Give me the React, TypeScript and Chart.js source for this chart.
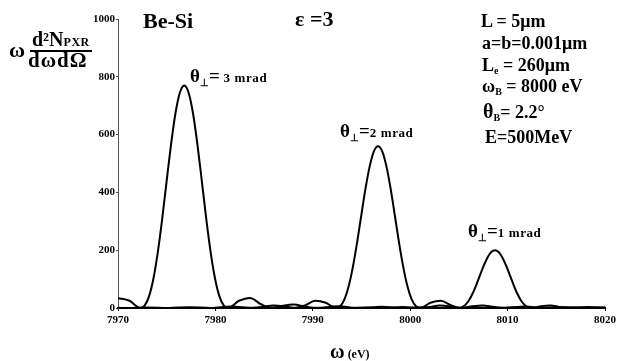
import React, { useEffect, useRef } from "react";
import { Chart, registerables } from "chart.js";

Chart.register(...registerables);

// ---- data ----
const seriesLabels = ["3", "2", "1"]; // θ⊥ in mrad

const omega3 = [7970, 7971.18, 7972.3, 7972.75, 7973.2, 7973.65, 7974.1, 7974.55, 7975.0, 7975.45, 7975.9, 7976.35, 7976.8, 7977.25, 7977.7, 7978.15, 7978.6, 7979.05, 7979.5, 7979.95, 7980.4, 7980.85, 7981.3, 7982.43, 7983.55, 7984.68, 7985.8, 7986.93, 7988.05, 7989.18, 7990.3, 7992.55, 7994.8, 7997.05, 7999.3, 8001.55, 8003.8, 8006.05, 8008.3, 8010.55, 8012.8, 8015.05, 8017.3, 8019.55, 8020];
const yield3 = [34, 25, 0, 9, 42, 104, 196, 312, 441, 567, 674, 745, 770, 745, 674, 567, 441, 312, 196, 104, 42, 9, 0, 25, 35, 13, 0, 8, 12, 5, 0, 6, 0, 4, 0, 2.5, 0, 2, 0, 1.5, 0, 1, 0, 1, 0.8];

const omega2 = [7970, 7970.9, 7973.05, 7975.2, 7977.35, 7979.5, 7981.65, 7983.8, 7984.88, 7985.95, 7987.03, 7988.1, 7989.18, 7990.25, 7991.33, 7992.4, 7992.83, 7993.26, 7993.69, 7994.12, 7994.55, 7994.98, 7995.41, 7995.84, 7996.27, 7996.7, 7997.13, 7997.56, 7997.99, 7998.42, 7998.85, 7999.28, 7999.71, 8000.14, 8000.57, 8001.0, 8002.08, 8003.15, 8004.23, 8005.3, 8006.38, 8007.45, 8008.53, 8009.6, 8011.75, 8013.9, 8016.05, 8018.2, 8020];
const yield2 = [0.5, 0, 2, 0, 3, 0, 5, 0, 4, 9, 6, 0, 9, 25, 18, 0, 7, 31, 76, 143, 227, 321, 413, 490, 542, 560, 542, 490, 413, 321, 227, 143, 76, 31, 7, 0, 18, 25, 9, 0, 6, 9, 4, 0, 5, 0, 3, 0, 2];

const omega1 = [7970, 7980, 7984.0, 7987.8, 7989.7, 7991.6, 7993.5, 7995.4, 7997.3, 7999.2, 8001.1, 8002.05, 8003.0, 8003.95, 8004.9, 8005.28, 8005.66, 8006.04, 8006.42, 8006.8, 8007.18, 8007.56, 8007.94, 8008.32, 8008.7, 8009.08, 8009.46, 8009.84, 8010.22, 8010.6, 8010.98, 8011.36, 8011.74, 8012.12, 8012.5, 8013.45, 8014.4, 8015.35, 8016.3, 8018.2, 8020];
const yield1 = [0.2, 0, 0.5, 0.7, 0, 1, 0, 1.7, 0, 3.2, 0, 3.3, 9, 6.5, 0, 2.4, 10.9, 27.1, 50.9, 81.1, 114.6, 147.4, 175, 193.5, 200, 193.5, 175, 147.4, 114.6, 81.1, 50.9, 27.1, 10.9, 2.4, 0, 6.5, 9, 3.3, 0, 3.2, 0.5];

const xMin = 7970;
const xMax = 8020;
const xStep = 10;
const yMin = 0;
const yMax = 1000;
const yStep = 200;

const params = ["L = 5μm", "a=b=0.001μm", "260μm", "8000 eV", "2.2°", "E=500MeV"];

const SERIF = '"Liberation Serif", "Times New Roman", serif';

function zip(xs: number[], ys: number[]) {
  return xs.map((x, i) => ({ x, y: ys[i] }));
}

const abs = (left: number, top: number, extra: React.CSSProperties = {}): React.CSSProperties => ({
  position: "absolute",
  left,
  top,
  whiteSpace: "nowrap",
  lineHeight: 1,
  fontFamily: SERIF,
  fontWeight: "bold",
  color: "#000",
  ...extra,
});

function ThetaLabel({ left, top, value, spaced }: { left: number; top: number; value: string; spaced?: boolean }) {
  return (
    <div style={abs(left, top, { fontSize: 19 })}>
      <span style={{ fontSize: 19 }}>θ</span>
      <span style={{ fontSize: 10, position: "relative", top: 4 }}>⊥</span>
      <span style={{ fontSize: 19 }}>=</span>
      <span style={{ fontSize: 13, letterSpacing: 0.6 }}>
        {spaced ? " " : ""}
        {value} mrad
      </span>
    </div>
  );
}

export default function App() {
  const ref = useRef<HTMLCanvasElement | null>(null);

  useEffect(() => {
    if (!ref.current) return;
    const tickFont = { family: SERIF, size: 11, weight: "bold" as const };
    const mk = (xs: number[], ys: number[], label: string) => ({
      label,
      data: zip(xs, ys),
      borderColor: "#000",
      borderWidth: 2,
      pointRadius: 0,
      fill: false,
      cubicInterpolationMode: "monotone" as const,
      tension: 0.4,
    });
    const chart = new Chart(ref.current, {
      type: "line",
      data: {
        datasets: [
          mk(omega3, yield3, seriesLabels[0]),
          mk(omega2, yield2, seriesLabels[1]),
          mk(omega1, yield1, seriesLabels[2]),
        ],
      },
      options: {
        animation: false,
        responsive: false,
        maintainAspectRatio: false,
        layout: { padding: { left: 0, top: 19, right: 13, bottom: 0 } },
        plugins: { legend: { display: false }, tooltip: { enabled: false }, title: { display: false } },
        scales: {
          x: {
            type: "linear",
            min: xMin,
            max: xMax,
            ticks: {
              stepSize: xStep,
              font: tickFont,
              color: "#000",
              padding: 3,
              maxRotation: 0,
              callback: (v: any) => String(v),
            },
            grid: { display: true, drawOnChartArea: false, drawTicks: true, tickLength: 3, color: "#000" },
            border: { display: true, color: "#000", width: 2 },
            afterFit: (s: any) => {
              s.height = 53;
            },
          },
          y: {
            type: "linear",
            min: yMin,
            max: yMax,
            ticks: { stepSize: yStep, font: tickFont, color: "#000", padding: 1, callback: (v: any) => String(v) },
            grid: { display: true, drawOnChartArea: false, drawTicks: true, tickLength: 2, color: "#444" },
            border: { display: true, color: "#555", width: 1 },
            afterFit: (s: any) => {
              s.width = 118;
            },
          },
        },
      },
    });
    return () => chart.destroy();
  }, []);

  return (
    <div style={{ position: "fixed", left: 0, top: 0, width: 619, height: 361, background: "#fff" }}>
      <canvas ref={ref} width={619} height={361} style={{ position: "absolute", left: 0, top: 0, width: 619, height: 361 }} />

      {/* y axis label */}
      <div style={abs(9, 39, { fontSize: 22 })}>ω</div>
      <div style={abs(32, 29, { fontSize: 20 })}>
        d²N<span style={{ fontSize: 12, letterSpacing: 0.5 }}>PXR</span>
      </div>
      <div style={{ position: "absolute", left: 30, top: 50, width: 62, height: 1.5, background: "#000" }} />
      <div style={abs(28, 49.5, { fontSize: 21, letterSpacing: 1 })}>dωdΩ</div>

      {/* titles */}
      <div style={abs(143, 9.5, { fontSize: 22 })}>Be-Si</div>
      <div style={abs(295, 7.5, { fontSize: 22 })}>ε =3</div>

      {/* peak labels */}
      <ThetaLabel left={190} top={66} value={seriesLabels[0]} spaced />
      <ThetaLabel left={340} top={121} value={seriesLabels[1]} />
      <ThetaLabel left={468} top={221} value={seriesLabels[2]} />

      {/* parameter block */}
      <div style={abs(481, 12, { fontSize: 18 })}>{params[0]}</div>
      <div style={abs(482, 34, { fontSize: 18 })}>{params[1]}</div>
      <div style={abs(482, 56, { fontSize: 18 })}>
        L<span style={{ fontSize: 10, position: "relative", top: 3 }}>e</span> = {params[2]}
      </div>
      <div style={abs(482, 77, { fontSize: 18 })}>
        ω<span style={{ fontSize: 10, position: "relative", top: 3 }}>B</span> = {params[3]}
      </div>
      <div style={abs(483, 101, { fontSize: 18 })}>
        <span style={{ fontSize: 20 }}>θ</span>
        <span style={{ fontSize: 10, position: "relative", top: 3 }}>B</span>= {params[4]}
      </div>
      <div style={abs(485, 128, { fontSize: 18 })}>{params[5]}</div>

      {/* x axis label */}
      <div style={abs(330, 341, { fontSize: 20 })}>
        ω<span style={{ fontSize: 12 }}> (eV)</span>
      </div>
    </div>
  );
}
